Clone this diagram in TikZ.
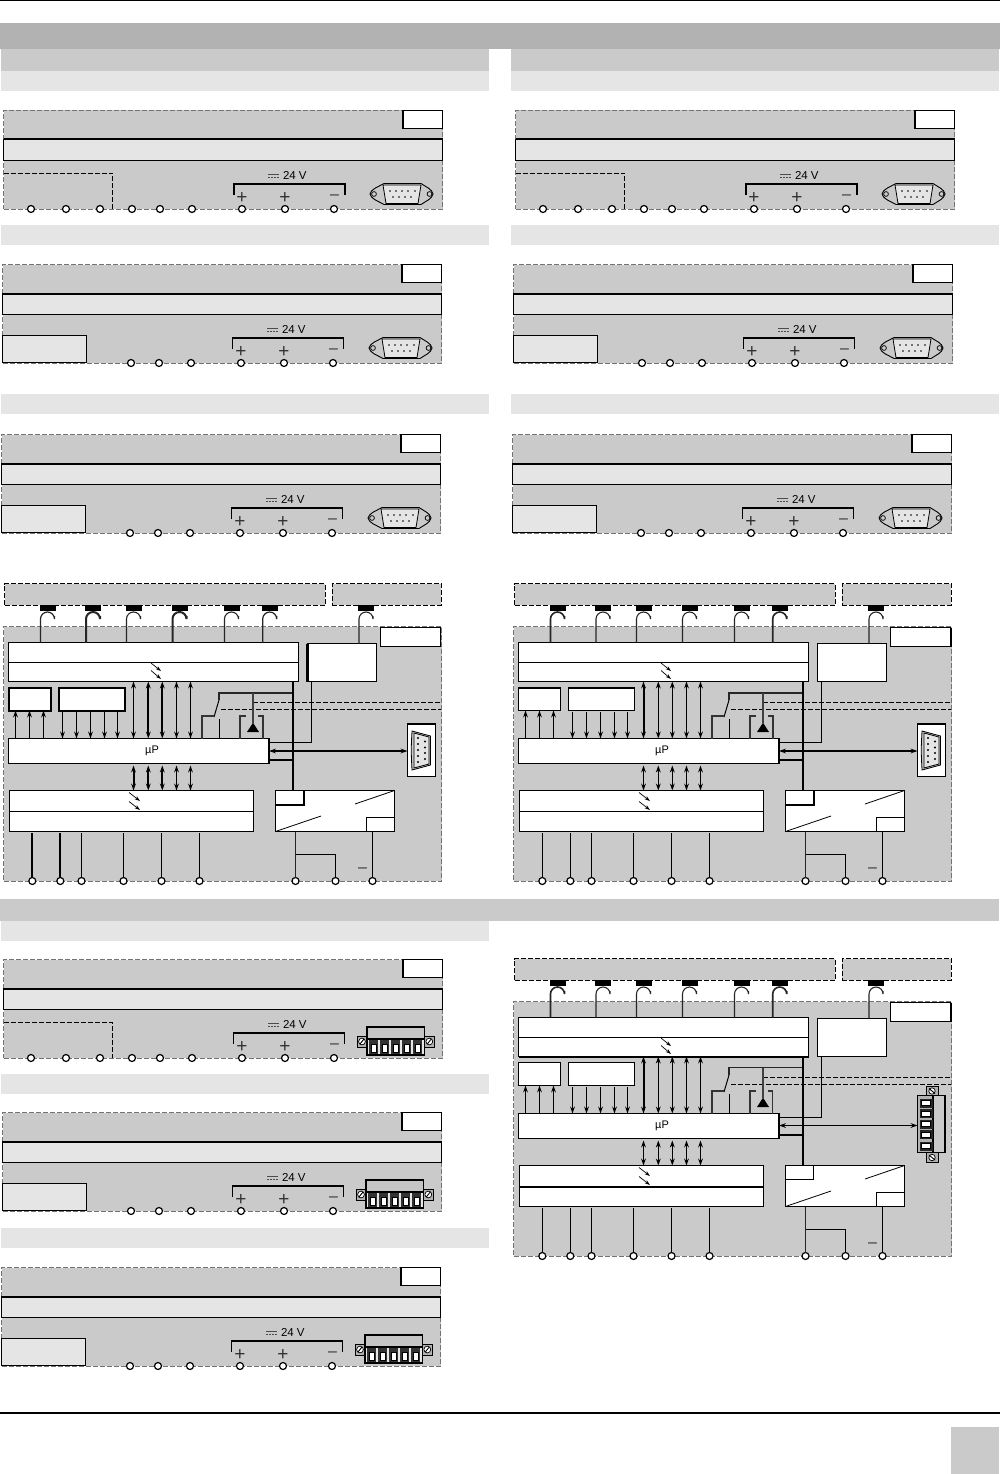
\documentclass[tikz,border=0pt]{standalone}
\usepackage{fontspec}
\setmainfont{Liberation Sans}
\usetikzlibrary{arrows.meta}
\definecolor{gA}{HTML}{B2B2B2}
\definecolor{gB}{HTML}{CACACA}
\definecolor{gC}{HTML}{E5E5E5}
\tikzset{
  term/.style={circle,draw=black,fill=white,line width=1.2pt,minimum size=7pt,inner sep=0pt,outer sep=0pt},
  wbox/.style={draw=black,fill=white,line width=1.2pt},
  lbox/.style={draw=black,fill=gC,line width=1.2pt},
  gdash/.style={draw=black!55,fill=gB,line width=1pt,dash pattern=on 5pt off 2pt},
  bdash/.style={draw=black,fill=gB,line width=1pt,dash pattern=on 5pt off 2pt},
  ndash/.style={draw=black,line width=1pt,dash pattern=on 5pt off 2pt},
  lbl/.style={inner sep=0pt,outer sep=0pt,text=black},
  ar/.style={-{Stealth[length=7pt,width=4.8pt]},line width=1.1pt},
  dar/.style={{Stealth[length=7pt,width=4.8pt]}-{Stealth[length=7pt,width=4.8pt]}},
  led/.style={-{Stealth[length=5.5pt,width=3.6pt]},line width=.7pt},
}
\newcommand\bx[6]{\node[inner sep=0pt,outer sep=0pt,rectangle,minimum width={(#4-#2)*1pt},minimum height={(#5-#3)*1pt},#6] (#1) at ({(#2+#4)/2},{(#3+#5)/2}) {};}
\newcommand\plus[1]{\node[lbl,text=black!80,font=\fontsize{19}{19}\selectfont] at (#1) {+};}
\newcommand\minus[1]{\node[lbl,text=black!80,font=\fontsize{16}{16}\selectfont] at (#1) {–};}
% horizontal 9-pin connector
\newcommand\subdh{%
  \draw[line width=.9pt,fill=gB] (370,194) .. controls (371,189) and (378,187) .. (384,183.5) -- (421,183.5) .. controls (426,187) and (432,189) .. (433,194) .. controls (432,199) and (426,201) .. (421,204.5) -- (384,204.5) .. controls (378,201) and (371,199) .. (370,194) -- cycle;
  \draw[line width=.8pt,fill=gC] (383,185) -- (421,185) -- (418,203.5) -- (386,203.5) -- cycle;
  \draw[line width=.7pt] (374,194) circle (2.4pt) (429.5,194) circle (2.4pt);
  \foreach \p in {390,396,402,408,415} {\fill (\p,191) circle (.8pt);}
  \foreach \p in {393,399,405,411} {\fill (\p,197) circle (.8pt);}
}
% horizontal plug connector
\newcommand\plugh{%
  \begin{scope}[shift={(0,-849)}]
  \draw[line width=.8pt,fill=gA] (357,1036) rectangle (367,1047);
  \draw[line width=.8pt,fill=gA] (424.5,1036) rectangle (434,1047);
  \draw[line width=.7pt,fill=white] (362,1041.5) circle (3.4pt) (429.3,1041.5) circle (3.4pt);
  \draw[line width=.9pt] (360,1044) -- (364,1039) (427.3,1044) -- (431.3,1039);
  \draw[line width=1.1pt,fill=gB!80!gA] (367,1027) rectangle (424.5,1039);
  \draw[line width=1.1pt,fill=gC] (367,1039) rectangle (424.5,1055);
  \foreach \p in {373.7,384.5,395.5,406.7,417.7} {
    \fill[black!80] (\p-4.5,1040) rectangle (\p+4.5,1054);
    \draw[line width=.7pt,fill=white] (\p-2.5,1044) rectangle (\p+2.5,1052);
  }
  \end{scope}
}
% front panel: name dx dy variant(d/s) connector(s/p) bracket width
\newcommand\panel[6]{%
\begin{scope}[shift={(#2,#3)}]
  \bx{#1out}{3.5}{110.5}{442.5}{209}{gdash}
  \bx{#1lab}{402.5}{110.5}{442.5}{128.5}{wbox}
  \draw[line width=2pt] (#1lab.north west) -- (#1lab.south west);
  \bx{#1strip}{3.5}{139.5}{442.5}{160.5}{lbox}
  \draw[line width=2pt] (#1strip.north west) -- (#1strip.north east);
  \if#4d
    \draw[ndash] (3.5,173.5) -- (112.5,173.5) -- (112.5,209);
    \foreach \t/\p in {a/31,b/66,c/100} {\node[term] (#1t\t) at (\p,209) {};}
  \else
    \bx{#1side}{3.5}{181.5}{87.5}{208.5}{lbox}
  \fi
  \foreach \t/\p in {d/132,e/160,f/192,g/242,h/285,i/334} {\node[term] (#1t\t) at (\p,209) {};}
  \draw[line width=#6] (#1tg |- 0,195) ++(-8.5,0) -- ++(0,-11) -- ++(111,0) -- ++(0,11);
  \plus{242,198}\plus{285,198}\minus{334.5,197.5}
  \draw[line width=1pt,black!70] (268,174.5) -- (279,174.5);
  \draw[line width=1pt,black!70,dash pattern=on 2pt off 1pt] (268,177.5) -- (279,177.5);
  \node[lbl,font=\fontsize{11.5}{11.5}\selectfont,anchor=west] (#1volt) at (283,175) {24 V};
  \if#5s \subdh \else \plugh \fi
\end{scope}}
% block diagram: name dx dy connector
\newcommand\block[4]{%
\begin{scope}[shift={(#2,#3)}]
  \bx{#1top}{4.5}{583.5}{325}{605}{bdash}
  \bx{#1topb}{332}{583.5}{441}{605}{bdash}
  \bx{#1mod}{3.5}{626.5}{441.5}{881}{gdash}
  \bx{#1lab}{380.5}{627.5}{440.5}{646.5}{wbox}
  \draw[line width=\wLab] (#1lab.north east) -- (#1lab.south east);
  \bx{#1b1}{8.5}{642.5}{298.5}{681.5}{wbox}
  \draw[line width=1.2pt] (#1b1.west |- 0,662.5) -- (#1b1.east |- 0,662.5);
  \draw[line width=\wBbot] (#1b1.south west) -- (#1b1.south east);
  \bx{#1b2}{307.5}{643.5}{376.5}{681.5}{wbox}
  \bx{#1b3}{8.5}{687.5}{50.5}{710.5}{wbox}
  \bx{#1b4}{58.5}{687.5}{124.5}{710.5}{wbox}
  \draw[line width=\wBox] (#1b3.north west) rectangle (#1b3.south east) (#1b4.north west) rectangle (#1b4.south east);
  \draw[line width=\wBtop] (#1b3.north west) -- (#1b3.north east) (#1b4.north west) -- (#1b4.north east);
  \draw[line width=\wBleft] (#1b2.north west) -- (#1b2.south west);
  \bx{#1mu}{8.5}{738.5}{269}{763.5}{wbox}
  \draw[line width=\wMue] (#1mu.north east) -- (#1mu.south east);
  \node[lbl,font=\fontsize{11}{11}\selectfont] (#1mut) at (152,750.5) {µP};
  \bx{#1b5}{9.5}{790.5}{253.5}{831.5}{wbox}
  \draw[line width=\wDiv] (#1b5.west |- 0,811.5) -- (#1b5.east |- 0,811.5);
  \bx{#1b6}{275.5}{790.5}{394.5}{831.5}{wbox}
  \bx{#1b6a}{275.5}{790.5}{303.5}{804.5}{wbox}
  \draw[line width=\wSix] (#1b6a.north east) -- (#1b6a.south east) -- (#1b6a.south west);
  \bx{#1b6b}{366.5}{817.5}{394.5}{831.5}{wbox}
  \draw[line width=.8pt] (#1b6.south west) -- (321,816) (355,804) -- (#1b6.north east);
  % bus hooks
  \foreach \n/\p/\w in {a/40.5/\wHookA,b/86/\wHook,c/126.5/1.1pt,d/172.5/\wHook,e/224.5/1.1pt,f/262.7/\wHookA} {
    \fill (\p-1,605) rectangle (\p+15,611);
    \draw[line width=\w,black!85] (#1b1.north -| \p,0) -- (\p,619) arc[start angle=180,end angle=0,radius=7pt] -- ++(0,3pt);
  }
  \fill (358,605) rectangle (374,611);
  \draw[line width=1.1pt,black!85] (#1b2.north -| 359,0) -- (359,619) arc[start angle=180,end angle=0,radius=7pt] -- ++(0,3pt);
  % interior section lines
  \draw[ndash] (253,702.5) -- (441,702.5);
  \draw[ndash] (221,709.5) -- (441,709.5);
  \draw[line width=\wSw,black!85] (219,700) -- (219,692.6) -- (293,692.6);
  \draw[line width=1pt] (219,700) -- (214,717);
  \draw[line width=\wSw,black!80] (#1mu.north -| 202,0) -- (202,716) -- (214,716);
  \draw[line width=1pt] (#1mu.north -| 219.5,0) -- (219.5,719);
  \draw[line width=\wSw,black!80] (#1mu.north -| 240,0) -- (240,716) -- (246,716);
  \draw[line width=\wSw,black!80] (#1mu.north -| 262.7,0) -- (262.7,716) -- (258,716);
  \draw[line width=\wSw,black!75] (253,692.6) -- (253,723);
  \fill (253,722.7) -- (259,732) -- (247,732) -- cycle;
  % arrows
  \foreach \p in {15.5,29.5,43.5} {\draw[ar] (#1mu.north -| \p,0) -- (#1b3.south -| \p,0);}
  \foreach \p in {62.5,76.5,90.5,104.5,117.5} {\draw[ar] (\p,712) -- (#1mu.north -| \p,0);}
  \foreach \p/\w in {133.5/\wAa,148.3/\wAb,162.3/\wAb,176.5/1.1pt,190.5/1.1pt} {\draw[dar,line width=\w] (#1b1.south -| \p,0) -- (#1mu.north -| \p,0);}
  \foreach \p/\w in {133.5/\wLa,148.3/\wLb,162.3/\wLb,176.5/1.2pt,190.5/1.2pt} {\draw[dar,line width=\w] (\p,765.5) -- (#1b5.north -| \p,0);}
  % led marks
  \draw[led] (151,663) -- (161,671); \draw[led] (151,670.5) -- (161,679);
  \draw[led] (129,792.5) -- (140,801); \draw[led] (129,801.5) -- (140,810);
  % bus
  \draw[line width=\wBus] (293,681) -- (293,790);
  \draw[line width=\wStub] (269,760) -- (293,760);
  \draw[line width=1.1pt] (#1b2.south -| 311.5,0) -- (311.5,742.5) -- (269,742.5);
  % terminals
  \foreach \n/\p/\w in {a/32.3/\wBot,b/60.3/\wBot,c/81.5/1.1pt,d/123.5/1.1pt,e/161.5/1.1pt,f/199.5/1.1pt} {
    \node[term] (#1s\n) at (\p,881) {};
    \draw[line width=\w] (#1s\n) -- (\p,833);
  }
  \node[term] (#1sg) at (295.5,881) {};
  \node[term] (#1sh) at (335.5,881) {};
  \node[term] (#1si) at (372.5,881) {};
  \draw[line width=\wLow,black!85] (#1sg) -- (#1b6.south -| 295.5,0);
  \draw[line width=1.1pt] (295.5,854.5) -- (335.5,854.5) -- (#1sh);
  \draw[line width=1.1pt] (#1si) -- (#1b6b.south -| 372.5,0);
  \minus{362.5,870}
  \if#4s
    \bx{#1con}{407.5}{723.5}{435.5}{776.5}{wbox}
    \draw[line width=2pt] (#1con.north west) -- (#1con.north east);
    \draw[line width=.8pt,fill=gB] (412,731) -- (430.5,736) -- (430.5,765) -- (412,770) .. controls (411,750) and (411,750) .. (412,731) -- cycle;
    \draw[line width=.8pt,fill=gC] (414,733) -- (429,737) -- (429,764) -- (414,768) -- cycle;
    \foreach \p in {738,744,750,756,762} {\fill (418,\p) circle (1.1pt);}
    \foreach \p in {741.5,747.5,753,759} {\fill (425,\p) circle (1.1pt);}
    \draw[dar,line width=\wCon] (#1mu.east |- 0,751) -- (#1con.west |- 0,751);
  \else
    \draw[line width=.8pt,fill=gA] (416,711.5) rectangle (428,720.5);
    \draw[line width=.8pt,fill=gA] (416,777.5) rectangle (428,787.5);
    \draw[line width=.7pt,fill=white] (422,716) circle (3.2pt) (422,782.5) circle (3.2pt);
    \draw[line width=.9pt] (419,713.5) -- (425,718.5) (419,780) -- (425,785);
    \bx{#1con}{407.5}{720.5}{435}{777.5}{lbox}
    \fill[gA] (#1con.north west) rectangle (423,777.5);
    \draw[line width=1.2pt,fill=gB] (423,720.5) rectangle (435,777.5);
    \draw[line width=1.2pt] (#1con.north west) rectangle (#1con.south east);
    \foreach \p in {728.2,738.5,749.2,759.8,771.2} {
      \fill[black!85] (409.5,\p-4.5) rectangle (423,\p+4.5);
      \draw[line width=.7pt,fill=white] (411.5,\p-2.5) rectangle (420,\p+2.5);
    }
    \draw[dar,line width=\wCon] (#1mu.east |- 0,750.5) -- (#1con.west |- 0,750.5);
  \fi
\end{scope}}
% widths: HookA Hook Bus Stub Con Bot Aa Ab La Lb Box Btop Sw Six Bbot Div Mue Lab Bleft Low
\newcommand\setwa[5]{\def\wHookA{#1}\def\wHook{#2}\def\wBus{#3}\def\wStub{#4}\def\wCon{#5}}
\newcommand\setwb[5]{\def\wBot{#1}\def\wAa{#2}\def\wAb{#3}\def\wLa{#4}\def\wLb{#5}}
\newcommand\setwc[5]{\def\wBox{#1}\def\wBtop{#2}\def\wSw{#3}\def\wSix{#4}\def\wBbot{#5}}
\newcommand\setwd[5]{\def\wDiv{#1}\def\wMue{#2}\def\wLab{#3}\def\wBleft{#4}\def\wLow{#5}}
\begin{document}
\begin{tikzpicture}[x=1pt,y=-1pt]
\useasboundingbox (0,0) rectangle (1000,1474);
\fill[white] (0,0) rectangle (1000,1474);
% page furniture
\fill[black] (0,0) rectangle (1000,1);
\fill[gA] (0,23) rectangle (1000,49);
\fill[gB] (1,49) rectangle (489,71);
\fill[gB] (511,49) rectangle (999,71);
\fill[gC] (1,71) rectangle (489,91);
\fill[gC] (511,71) rectangle (999,91);
\fill[gC] (1,225) rectangle (489,245);
\fill[gC] (511,225) rectangle (999,245);
\fill[gC] (1,394) rectangle (489,414);
\fill[gC] (511,394) rectangle (999,414);
\fill[gB] (0,899) rectangle (999,921);
\fill[gC] (1,921) rectangle (489,941);
\fill[gC] (1,1074) rectangle (489,1094);
\fill[gC] (1,1228) rectangle (489,1248);
\fill[black] (0,1411.5) rectangle (1000,1413.5);
\fill[gB] (951,1427) rectangle (999,1474);
% panels
\panel{pa}{0}{0}{d}{s}{2pt}
\panel{pb}{512}{0}{d}{s}{2pt}
\panel{pc}{-1}{154}{s}{s}{1.2pt}
\panel{pd}{510}{154}{s}{s}{1.2pt}
\panel{pe}{-2}{324}{s}{s}{1.2pt}
\panel{pf}{509}{324}{s}{s}{1.5pt}
\panel{pg}{0}{849}{d}{p}{1.2pt}
\panel{ph}{-1}{1002}{s}{p}{1.5pt}
\panel{pi}{-2}{1157}{s}{p}{1.2pt}
% block diagrams
\setwa{1.2pt}{2pt}{2pt}{2pt}{2pt}\setwb{2pt}{1.2pt}{2pt}{2pt}{2pt}\setwc{2pt}{2pt}{2pt}{2pt}{1.2pt}\setwd{1.2pt}{1.2pt}{1.2pt}{2.5pt}{1.6pt}
\block{ba}{0}{0}{s}
\setwa{1.6pt}{1.1pt}{1.1pt}{2pt}{2pt}\setwb{1.1pt}{2pt}{1.1pt}{1.3pt}{1.3pt}\setwc{1.2pt}{2pt}{2pt}{2pt}{1.2pt}\setwd{1.2pt}{2pt}{2pt}{1.2pt}{1.6pt}
\block{bb}{510}{0}{s}
\setwa{1.6pt}{1.1pt}{1.1pt}{1.1pt}{1.1pt}\setwb{1.1pt}{2pt}{1.1pt}{1.3pt}{1.3pt}\setwc{1.2pt}{1.2pt}{1.2pt}{1.2pt}{2pt}\setwd{2pt}{2pt}{2pt}{1.2pt}{1.4pt}
\block{bc}{510}{375}{p}
\end{tikzpicture}
\end{document}
